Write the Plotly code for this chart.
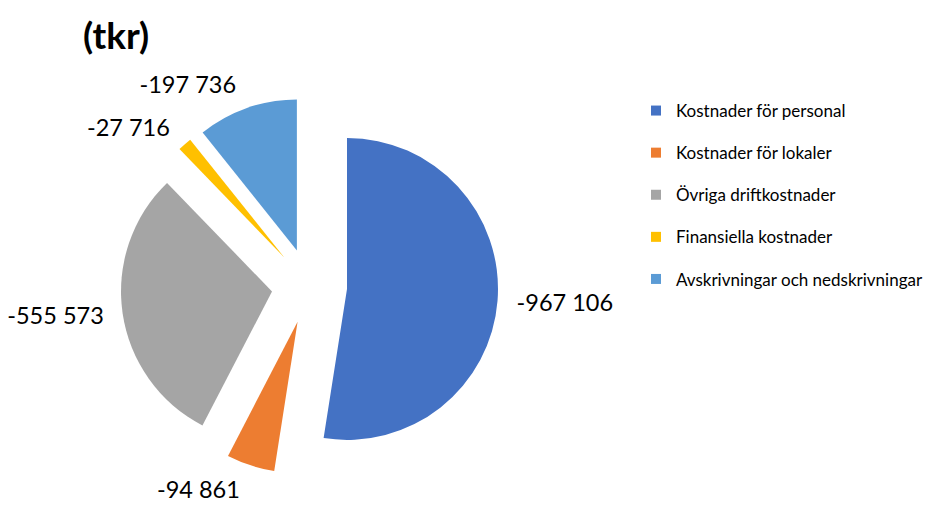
import plotly.graph_objects as go

categories = ["Kostnader för personal", "Kostnader för lokaler", "Övriga driftkostnader",
              "Finansiella kostnader", "Avskrivningar och nedskrivningar"]
values = [-967106, -94861, -555573, -27716, -197736]
colors = ["#4472C4", "#ED7D31", "#A5A5A5", "#FFC000", "#5B9BD5"]
title_text = "(tkr)"

FONT = "Lato, Carlito, Calibri, sans-serif"


def fmt(v):
    s = f"{abs(v):,}".replace(",", " ")
    return ("-" if v < 0 else "") + s


labels_text = [fmt(v) for v in values]
abs_values = [abs(v) for v in values]
pulls = [0.25] * len(values)

fig = go.Figure()
# visible pie (no text)
fig.add_trace(go.Pie(
    labels=categories,
    values=abs_values,
    text=labels_text,
    textinfo="none",
    sort=False,
    direction="clockwise",
    rotation=0,
    pull=pulls,
    marker=dict(colors=colors, line=dict(width=0)),
    domain=dict(x=[0.1304, 0.5385], y=[0.0599, 0.8074]),
    showlegend=False,
    hoverinfo="label+text",
))
# same data, concentric and slightly larger, transparent: carries the data labels
fig.add_trace(go.Pie(
    labels=categories,
    values=abs_values,
    text=labels_text,
    textinfo="text",
    textposition="outside",
    sort=False,
    direction="clockwise",
    rotation=0,
    pull=pulls,
    marker=dict(colors=["rgba(0,0,0,0)"] * len(values), line=dict(width=0)),
    outsidetextfont=dict(family=FONT, size=23.5, color="#000000"),
    domain=dict(x=[0.1175, 0.5515], y=[0.0361, 0.8312]),
    showlegend=False,
    hoverinfo="skip",
))

# legend entries (one group each so they can be spaced like the original)
for i, (c, col) in enumerate(zip(categories, colors)):
    fig.add_trace(go.Scatter(
        x=[None], y=[None], mode="markers", name=c,
        marker=dict(symbol="square", size=10, color=col),
        legendgroup=f"g{i}", showlegend=True,
    ))

fig.update_layout(
    width=925, height=505,
    margin=dict(l=0, r=0, t=0, b=0, autoexpand=False),
    paper_bgcolor="white", plot_bgcolor="white",
    font=dict(family=FONT, color="#000000"),
    title=dict(text=f"<b>{title_text}</b>", x=83 / 925, xanchor="left",
               y=1 - 36 / 505, yanchor="middle",
               font=dict(family=FONT, size=37, color="#000000")),
    xaxis=dict(visible=False), yaxis=dict(visible=False),
    legend=dict(x=636 / 925, xanchor="left", y=1 - 93 / 505, yanchor="top",
                font=dict(family=FONT, size=17, color="#000000"),
                tracegroupgap=17, bgcolor="rgba(0,0,0,0)"),
)

fig.write_html("out.html")
